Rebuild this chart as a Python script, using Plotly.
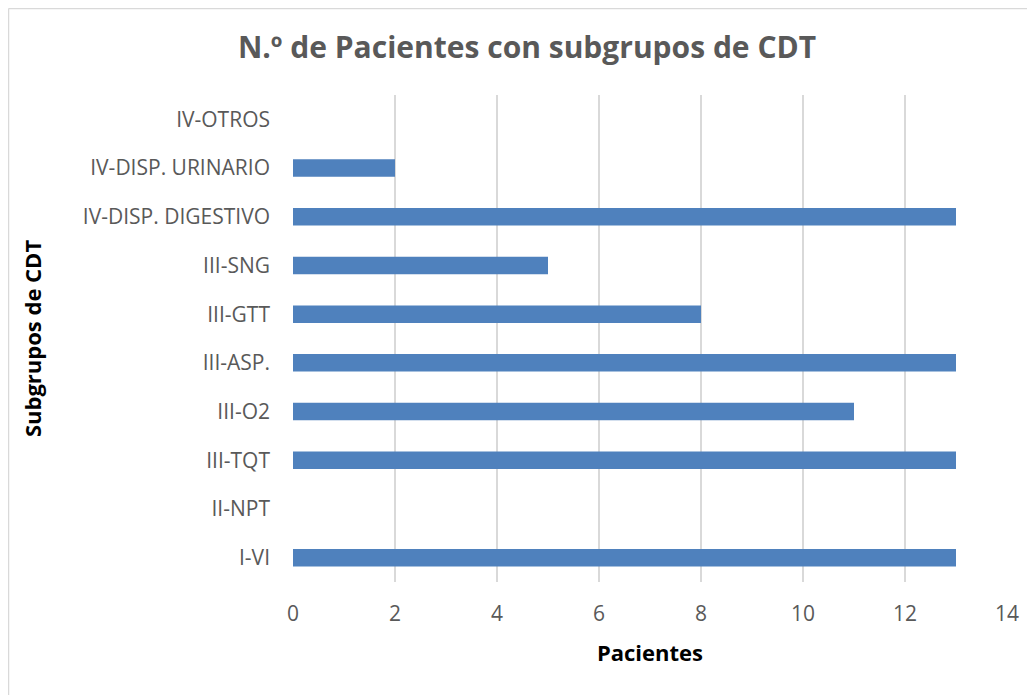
import plotly.graph_objects as go

categories = ["I-VI", "II-NPT", "III-TQT", "III-O2", "III-ASP.", "III-GTT",
              "III-SNG", "IV-DISP. DIGESTIVO", "IV-DISP. URINARIO", "IV-OTROS"]
values = [13, 0, 13, 11, 13, 8, 5, 13, 2, 0]
x_ticks = [0, 2, 4, 6, 8, 10, 12, 14]

OFF = 8  # page body margin
W, H = 1035 - OFF, 695 - OFF
L, R, T, B = 293 - OFF, 28, 95 - OFF, 113
pw, ph = W - L - R, H - T - B

fig = go.Figure(go.Bar(
    y=categories, x=values, orientation="h",
    marker=dict(color="#4F81BD", line=dict(width=0)),
    width=0.36,
))

font_fam = "'Open Sans', sans-serif"
fig.update_layout(
    width=W, height=H,
    margin=dict(l=L, r=R, t=T, b=B, pad=0),
    paper_bgcolor="white", plot_bgcolor="white",
    showlegend=False,
    font=dict(family=font_fam, color="#595959", size=21),
    title=dict(text="<b>N.º de Pacientes con subgrupos de CDT</b>",
               x=(527 - OFF) / W, xanchor="center", y=1 - (47 - OFF) / H, yanchor="middle",
               font=dict(size=30, color="#595959", family=font_fam)),
    xaxis=dict(range=[0, 14], tickvals=x_ticks, showgrid=True,
               gridcolor="#D9D9D9", gridwidth=1.5, zeroline=False,
               showline=False, ticks="", ticklabelstandoff=17,
               title=dict(text="<b>Pacientes</b>", standoff=19,
                          font=dict(size=22, color="black"))),
    yaxis=dict(categoryorder="array", categoryarray=categories,
               range=[-0.5, 9.5], showgrid=False, zeroline=False,
               showline=False, ticks="", ticklabelstandoff=22,
               title=dict(text="<b>Subgrupos de CDT</b>", standoff=35,
                          font=dict(size=22, color="black"))),
    shapes=[
        dict(type="line", xref="paper", yref="paper",
             x0=(0.5 - L) / pw, x1=(W + 5 - L) / pw,
             y0=1 + (T - 0.5) / ph, y1=1 + (T - 0.5) / ph,
             line=dict(color="#D9D9D9", width=1.5)),
        dict(type="line", xref="paper", yref="paper",
             x0=(0.5 - L) / pw, x1=(0.5 - L) / pw,
             y0=1 + (T - 0.5) / ph, y1=-(B + 5) / ph,
             line=dict(color="#D9D9D9", width=1.5)),
    ],
)
fig.write_html("out.html")
